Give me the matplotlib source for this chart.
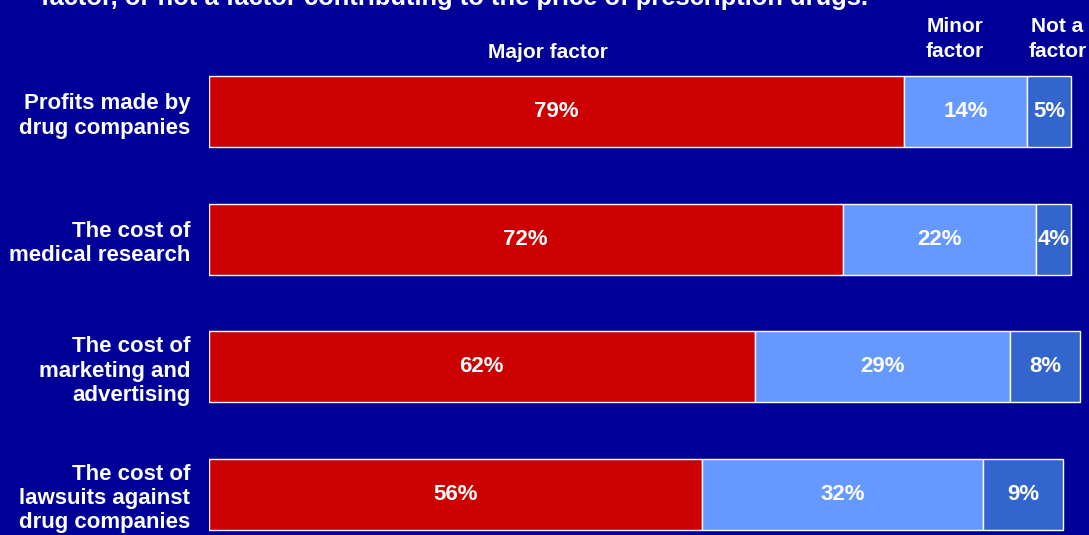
import numpy as np
import matplotlib.pyplot as plt

# survey data
items = ['Profits made by\ndrug companies',
         'The cost of\nmedical research',
         'The cost of\nmarketing and\nadvertising',
         'The cost of\nlawsuits against\ndrug companies']
major = [79, 72, 62, 56]
minor = [14, 22, 29, 32]
not_factor = [5, 4, 8, 9]
series_names = ['Major factor', 'Minor\nfactor', 'Not a\nfactor']

bg = '#000099'
colors = ['#CC0000', '#6699FF', '#3366CC']

plt.rcParams['font.family'] = ['Liberation Sans', 'DejaVu Sans']
plt.rcParams['font.weight'] = 'bold'

fig = plt.figure(figsize=(10.89, 5.35), dpi=100)
fig.patch.set_facecolor(bg)
ax = fig.add_axes([209 / 1089, 0, 1 - 209 / 1089, 1 - 48.25 / 535])
ax.set_facecolor(bg)

y = np.arange(len(items))
left = np.zeros(len(items))
for vals, col in zip([major, minor, not_factor], colors):
    vals = np.array(vals)
    ax.barh(y, vals, left=left, height=0.557, color=col,
            edgecolor='white', linewidth=1)
    for yi, l, v in zip(y, left, vals):
        ax.text(l + v / 2, yi, '%d%%' % v, color='white', fontsize=16,
                fontweight='bold', ha='center', va='center')
    left = left + vals

ax.set_xlim(0, 100)
ax.set_ylim(3.318, -0.5)
ax.set_yticks(y)
ax.set_yticklabels(items, color='white', fontsize=16, fontweight='bold',
                   linespacing=1.2)
ax.tick_params(axis='y', length=0, pad=13.5)
ax.set_xticks([])
for s in ax.spines.values():
    s.set_visible(False)

# column headers above the first bar
hx = [38.5, 84.8, 96.4]
hy = [-0.47, -0.575, -0.575]
for x, yy, name in zip(hx, hy, series_names):
    ax.text(x, yy, name, color='white', fontsize=15, fontweight='bold',
            ha='center', va='center', linespacing=1.4, clip_on=False)

fig.text(41 / 1089, 1 - 5 / 535,
         'factor, or not a factor contributing to the price of prescription drugs.',
         color='white', fontsize=18.4, fontweight='bold', ha='left', va='baseline')

fig.savefig('out.png', dpi=100, facecolor=bg)
